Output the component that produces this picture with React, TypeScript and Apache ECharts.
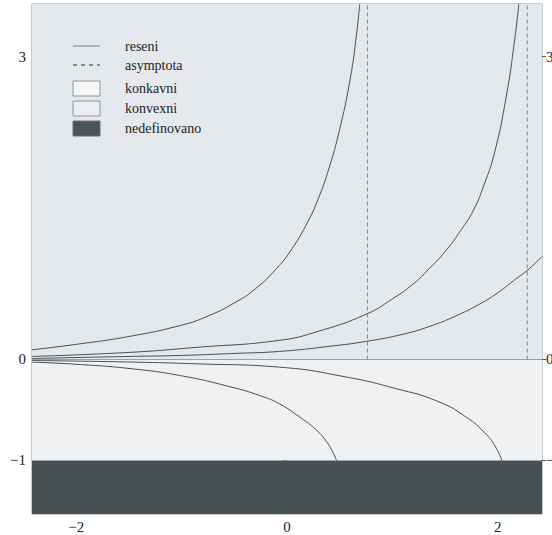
import React, { useEffect, useRef } from "react";
import * as echarts from "echarts";

const xRange = [-2.42, 2.42];
const yRange = [-1.53, 3.52];
const xTicks = [-2, 0, 2];
const yTicks = [-1, 0, 3];
const asymptotes = [0.763, 2.28];

const curveA: number[][] = [
  [-2.42, 0.096], [-2.0, 0.15], [-1.5, 0.228], [-1.0, 0.34], [-0.75, 0.43],
  [-0.5, 0.56], [-0.3, 0.7], [-0.1, 0.9], [0.05, 1.1], [0.2, 1.37], [0.3, 1.6],
  [0.4, 1.9], [0.5, 2.28], [0.6, 2.78], [0.66, 3.22], [0.69, 3.52],
];
const curveB: number[][] = [
  [-2.42, 0.03], [-1.5, 0.07], [-0.86, 0.12], [-0.07, 0.19], [0.3, 0.28],
  [0.755, 0.45], [1.0, 0.6], [1.2, 0.75], [1.35, 0.9], [1.51, 1.08], [1.65, 1.28],
  [1.77, 1.48], [1.87, 1.73], [1.97, 2.05], [2.08, 2.6], [2.16, 3.16], [2.2, 3.52],
];
const curveC: number[][] = [
  [-2.42, 0.01], [-1.5, 0.03], [-1.0, 0.04], [-0.5, 0.06], [-0.07, 0.08],
  [0.4, 0.13], [0.755, 0.18], [1.1, 0.25], [1.36, 0.33], [1.6, 0.43],
  [1.83, 0.55], [2.0, 0.66], [2.15, 0.78], [2.3, 0.9], [2.42, 1.02],
];
const curveD: number[][] = [
  [-2.42, -0.01], [-1.5, -0.025], [-0.86, -0.043], [-0.07, -0.076], [0.57, -0.175],
  [1.04, -0.29], [1.42, -0.41], [1.7, -0.57], [1.89, -0.74], [1.97, -0.85],
  [2.02, -0.95], [2.04, -1.0],
];
const curveE: number[][] = [
  [-2.42, -0.026], [-1.96, -0.05], [-1.49, -0.09], [-1.01, -0.16], [-0.54, -0.27],
  [-0.25, -0.36], [-0.07, -0.44], [0.12, -0.57], [0.28, -0.7], [0.38, -0.82],
  [0.44, -0.93], [0.47, -1.0],
];
const zeroLine: number[][] = [[-2.42, 0], [2.42, 0]];

const legendLabels = ["reseni", "asymptota", "konkavni", "konvexni", "nedefinovano"];
const legendY = [46, 65, 88, 108, 128];

const FONT = "Liberation Serif";

export default function App() {
  const ref = useRef<HTMLDivElement>(null);
  useEffect(() => {
    const chart = echarts.init(ref.current!, undefined, { renderer: "svg" });
    const curveStyle = { color: "#4a4d52", width: 1 };
    const mkCurve = (name: string, data: number[][]) => ({
      type: "line",
      name,
      data,
      smooth: 0.5,
      showSymbol: false,
      symbol: "none",
      lineStyle: curveStyle,
      z: 5,
    });
    const fmt = (v: number) => (v < 0 ? "\u2212" + Math.abs(v) : String(v));
    const option: any = {
      animation: false,
      backgroundColor: "#ffffff",
      grid: {
        left: 32, right: 10, top: 4, bottom: 21,
        outerBoundsMode: "none",
        containLabel: false,
        show: true, borderColor: "#8c9496", borderWidth: 1, backgroundColor: "transparent",
      },
      xAxis: {
        type: "value", min: xRange[0], max: xRange[1],
        splitLine: { show: false },
        axisLine: { show: false },
        axisTick: { show: true, customValues: xTicks, length: 4, lineStyle: { color: "#555" } },
        axisLabel: { customValues: xTicks, color: "#222", fontFamily: FONT, fontSize: 15, margin: 5, formatter: fmt },
      },
      yAxis: [
        {
          type: "value", min: yRange[0], max: yRange[1], position: "left",
          splitLine: { show: false }, axisLine: { show: false },
          axisTick: { show: true, customValues: yTicks, length: 4, lineStyle: { color: "#555" } },
          axisLabel: { customValues: yTicks, color: "#222", fontFamily: FONT, fontSize: 15, margin: 6, formatter: fmt },
        },
        {
          type: "value", min: yRange[0], max: yRange[1], position: "right",
          splitLine: { show: false }, axisLine: { show: false },
          axisTick: { show: true, customValues: yTicks, length: 4, lineStyle: { color: "#555" } },
          axisLabel: { customValues: yTicks, color: "#222", fontFamily: FONT, fontSize: 15, margin: 4, formatter: fmt },
        },
      ],
      series: [
        {
          type: "line", data: [], silent: true,
          markArea: {
            silent: true,
            data: [
              [{ coord: [xRange[0], 0], itemStyle: { color: "#e5e9ee" } }, { coord: [xRange[1], yRange[1]] }],
              [{ coord: [xRange[0], -1], itemStyle: { color: "#eff1f3" } }, { coord: [xRange[1], 0] }],
              [{ coord: [xRange[0], yRange[0]], itemStyle: { color: "#485255" } }, { coord: [xRange[1], -1] }],
            ],
          },
          z: 1,
        },
        { type: "line", data: zeroLine, showSymbol: false, symbol: "none", lineStyle: { color: "#9aa0a6", width: 1 }, z: 3 },
        ...asymptotes.map((a) => ({
          type: "line", data: [[a, 0], [a, yRange[1]]], showSymbol: false, symbol: "none",
          lineStyle: { color: "#7d8288", width: 1, type: [4, 3] }, z: 4,
        })),
        mkCurve("A", curveA),
        mkCurve("B", curveB),
        mkCurve("C", curveC),
        mkCurve("D", curveD),
        mkCurve("E", curveE),
      ],
      graphic: [
        { type: "line", shape: { x1: 73, y1: 46, x2: 100, y2: 46 }, style: { stroke: "#8a8fa6", lineWidth: 1.2 }, z: 10 },
        { type: "line", shape: { x1: 73, y1: 65, x2: 100, y2: 65 }, style: { stroke: "#333", lineWidth: 1, lineDash: [4, 4] }, z: 10 },
        { type: "rect", shape: { x: 73, y: 81, width: 27, height: 15 }, style: { fill: "#f5f6f8", stroke: "#8c9496", lineWidth: 1 }, z: 10 },
        { type: "rect", shape: { x: 73, y: 101, width: 27, height: 15 }, style: { fill: "#eceef2", stroke: "#8c9496", lineWidth: 1 }, z: 10 },
        { type: "rect", shape: { x: 73, y: 121, width: 27, height: 15 }, style: { fill: "#4a5356", stroke: "#6a7274", lineWidth: 1 }, z: 10 },
        ...legendLabels.map((t, i) => ({
          type: "text", x: 125, y: legendY[i], z: 10,
          style: { text: t, fill: "#222", font: `14px "${FONT}"`, verticalAlign: "middle" },
        })),
      ],
    };
    chart.setOption(option);
    return () => chart.dispose();
  }, []);
  return <div ref={ref} style={{ position: "absolute", left: 0, top: 0, width: 552, height: 535 }} />;
}
